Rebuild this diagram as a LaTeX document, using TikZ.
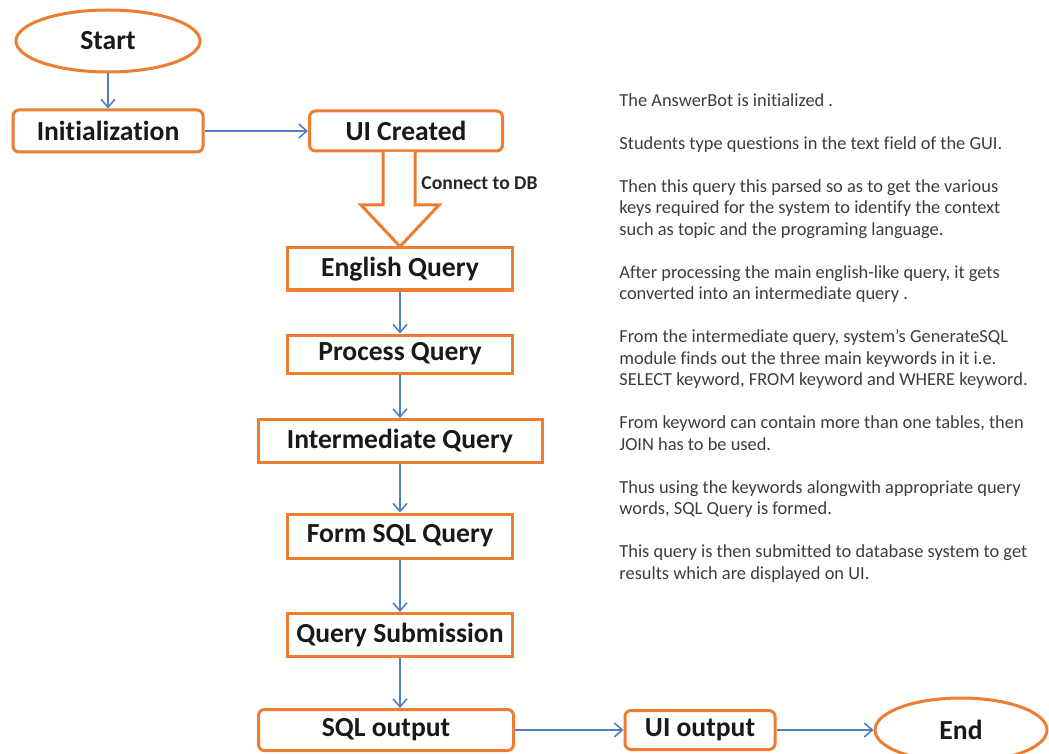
\documentclass[tikz,border=0pt]{standalone}
\usepackage{fontspec}
\setmainfont{Carlito}[Ligatures={NoCommon,NoDiscretionary}]
\usetikzlibrary{arrows.meta,shapes.geometric}
\definecolor{boxorange}{RGB}{237,125,49}
\definecolor{flowblue}{RGB}{79,129,189}
\definecolor{notegray}{RGB}{60,60,60}
\begin{document}
\begin{tikzpicture}[x=0.5pt,y=-0.5pt,
    stepbox/.style={draw=boxorange, line width=1.5pt, fill=white, inner sep=0pt,
        font=\fontsize{13.8}{16}\selectfont\bfseries, text=black!90},
    roundbox/.style={stepbox, rounded corners=3pt},
    terminal/.style={stepbox, ellipse},
    flow/.style={draw=flowblue, line width=0.8pt, -{Straight Barb[length=4pt,width=7pt]}},
    note/.style={anchor=north west, inner sep=0pt, align=left, text=notegray,
        font=\fontsize{9.2}{10.75}\selectfont}]
    \useasboundingbox (0,0) rectangle (1049,754);

    % Left column
    \node[terminal, minimum width=92pt, minimum height=31pt] (start) at (108,41) {Start};
    \node[roundbox, minimum width=95pt, minimum height=21pt] (init) at (108,131) {Initialization};
    \node[roundbox, minimum width=96.5pt, minimum height=20pt] (uicreated) at (406,131) {UI Created};
    \node[stepbox, minimum width=112.5pt, minimum height=21pt] (engquery) at (400,269) {English Query};
    \node[stepbox, minimum width=112.5pt, minimum height=19pt] (procquery) at (400,354) {Process Query};
    \node[stepbox, minimum width=142pt, minimum height=21.5pt] (interquery) at (400,441) {Intermediate Query};
    \node[stepbox, minimum width=112.5pt, minimum height=22pt] (formsql) at (400,536) {Form SQL Query};
    \node[stepbox, minimum width=112.5pt, minimum height=21.5pt] (submit) at (400,635) {Query Submission};

    % Bottom row
    \node[roundbox, minimum width=127.5pt, minimum height=20.5pt] (sqlout) at (386,730) {SQL output};
    \node[roundbox, minimum width=75pt, minimum height=19.5pt] (uiout) at (700,730) {UI output};
    \node[terminal, minimum width=86pt, minimum height=32pt] (stop) at (961,730) {End};

    % Hollow arrow to the database
    \draw[draw=boxorange, line width=1.5pt, fill=white, line join=miter]
        (383,152) -- (383,205) -- (361,205) -- (engquery.north) -- (439,205)
        -- (415,205) -- (415,152);
    \node[anchor=west, inner sep=0pt, font=\fontsize{9.8}{11}\selectfont\bfseries, text=black!85]
        (dblabel) at (421,183) {Connect to DB};

    % Connectors
    \draw[flow] (start) -- (init);
    \draw[flow] (init) -- (uicreated);
    \draw[flow] (engquery) -- (procquery);
    \draw[flow] (procquery) -- (interquery);
    \draw[flow] (interquery) -- (formsql);
    \draw[flow] (formsql) -- (submit);
    \draw[flow] (submit.south) -- (submit.south |- sqlout.north);
    \draw[flow] (sqlout) -- (uiout);
    \draw[flow] (uiout) -- (stop);

    % Notes on the right
    \node[note] (notes) at (619,93) {The AnswerBot is initialized .\\[10.75pt]
        Students type questions in the text field of the GUI.\\[10.75pt]
        Then this query this parsed so as to get the various\\
        keys required for the system to identify the context\\
        such as topic and the programing language.\\[10.75pt]
        After processing the main english-like query, it gets\\
        converted into an intermediate query .\\[10.75pt]
        From the intermediate query, system's GenerateSQL\\
        module finds out the three main keywords in it i.e.\\
        SELECT keyword, FROM keyword and WHERE keyword.\\[10.75pt]
        From keyword can contain more than one tables, then\\
        JOIN has to be used.\\[10.75pt]
        Thus using the keywords alongwith appropriate query\\
        words, SQL Query is formed.\\[10.75pt]
        This query is then submitted to database system to get\\
        results which are displayed on UI.};
\end{tikzpicture}
\end{document}
